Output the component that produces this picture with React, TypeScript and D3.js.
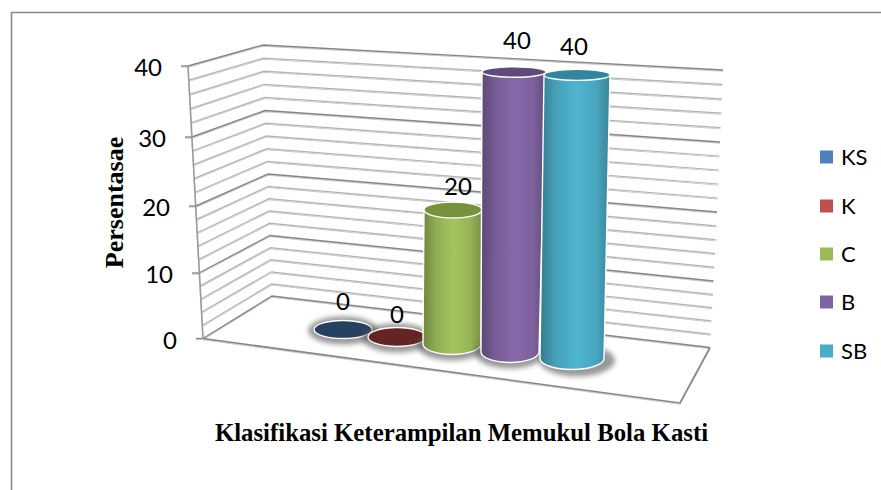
import React from "react";
import * as d3 from "d3";

const categories = ["KS", "K", "C", "B", "SB"];
const percentages = [0, 0, 20, 40, 40];
const colors = ["#4f81bd", "#c0504d", "#9bbb59", "#8064a2", "#4bacc6"];
const capColors = ["#254061", "#632523", "#76923c", "#5f4a7c", "#31859c"];
const axisTicks = [0, 10, 20, 30, 40];
const gridValues = d3.range(0, 42, 2);
const yTitle = "Persentasae";
const xTitle = "Klasifikasi Keterampilan Memukul Bola Kasti";

// Perspective box: each vertical edge of the 3D walls is a value -> pixel scale.
const frontX = d3.scaleLinear().domain(axisTicks).range([203, 199, 196, 192, 188]);
const frontY = d3.scaleLinear().domain(axisTicks).range([338.5, 273, 206, 137, 66]);
const cornerX = d3.scaleLinear().domain(axisTicks).range([272, 270, 268, 265, 263]);
const cornerY = d3.scaleLinear().domain(axisTicks).range([296, 235.5, 174, 110.5, 45]);
const backX = d3.scaleLinear().domain(axisTicks).range([710, 713.5, 717, 720, 723]);
const backY = d3.scaleLinear().domain(axisTicks).range([347.5, 281, 212, 142, 70]);
const floorFrontRight: [number, number] = [680, 403];

// Floor placement and foreshortening of each cylinder, indexed by category.
const slots = categories.map((_, i) => i);
const baseX = d3.scaleLinear().domain(slots).range([343, 397, 452, 510, 572]);
const baseY = d3.scaleLinear().domain(slots).range([329.5, 337, 344, 352, 358.5]);
const baseRx = d3.scaleLinear().domain(slots).range([29, 29, 29, 29, 32]);
const baseRy = d3.scaleLinear().domain(slots).range([9, 9.5, 10.5, 10.5, 11]);
const unitHeight = d3.scaleLinear().domain(slots).range([6.6, 6.65, 6.7, 7, 7.09]);
const leanAtMax = d3.scaleLinear().domain(slots).range([0, 1, 2, 4, 5]);
const flareAtMax = d3.scaleLinear().domain(slots).range([0, 0, 0, 3, 1]);
const labelGap = d3.scaleLinear().domain(slots).range([19.5, 14, 15, 23, 20]);
const labelShift = d3.scaleLinear().domain(slots).range([0, 0, 5, 3, -3]);
const capFlatten = d3.scaleLinear().domain([0, 40]).range([1, 0.5]);

const legendY = d3.scaleLinear().domain(slots).range([157, 206, 254, 302, 351]);

const LABEL_FONT = "Lato, 'Open Sans', sans-serif";
const TITLE_FONT = "'Liberation Serif', 'Times New Roman', serif";
const line = d3.line();

function Cylinder({ i }: { i: number }) {
  const v = percentages[i];
  const bx = baseX(i);
  const by = baseY(i);
  const brx = baseRx(i);
  const bry = baseRy(i);
  const shadow = (
    <ellipse
      cx={bx + (i === 4 ? 5 : 0)}
      cy={by + (i === 4 ? 2 : 1)}
      rx={brx + 6}
      ry={bry + 5}
      fill="#555"
      opacity={0.6}
      filter="url(#baseShadow)"
    />
  );
  if (v === 0) {
    return (
      <g>
        {shadow}
        <ellipse cx={bx} cy={by} rx={brx} ry={bry} fill={capColors[i]} stroke="#fff" strokeWidth={1.3} />
      </g>
    );
  }
  const share = v / 40;
  const tx = bx + leanAtMax(i) * share;
  const ty = by - v * unitHeight(i);
  const trx = brx + flareAtMax(i) * share;
  const tryy = bry * capFlatten(v);
  const body = `M${tx - trx},${ty}L${bx - brx},${by}A${brx},${bry} 0 0 0 ${bx + brx},${by}L${tx + trx},${ty}Z`;
  return (
    <g>
      {shadow}
      <path d={body} fill={`url(#cyl${i})`} stroke="#fff" strokeWidth={1.4} strokeLinejoin="round" />
      <ellipse cx={tx} cy={ty} rx={trx} ry={tryy} fill={capColors[i]} stroke="#fff" strokeWidth={1.4} />
    </g>
  );
}

export default function App() {
  return (
    <svg
      width={881}
      height={490}
      viewBox="0 0 881 490"
      style={{ position: "fixed", left: 0, top: 0, background: "#fff", display: "block" }}
    >
      <defs>
        <filter id="baseShadow" x="-40%" y="-80%" width="180%" height="260%">
          <feGaussianBlur stdDeviation={2.6} />
        </filter>
        <filter id="lineShadow" x="-5%" y="-5%" width="110%" height="110%">
          <feDropShadow dx={0} dy={1} stdDeviation={0.7} floodColor="#000" floodOpacity={0.22} />
        </filter>
        {colors.map((c, i) => (
          <linearGradient id={`cyl${i}`} key={c} x1="0" x2="1" y1="0" y2="0">
            <stop offset="0" stopColor={d3.rgb(c).darker(0.95).formatHex()} />
            <stop offset="0.22" stopColor={d3.rgb(c).darker(0.2).formatHex()} />
            <stop offset="0.52" stopColor={d3.rgb(c).brighter(0.15).formatHex()} />
            <stop offset="0.8" stopColor={d3.rgb(c).darker(0.1).formatHex()} />
            <stop offset="1" stopColor={d3.rgb(c).darker(0.75).formatHex()} />
          </linearGradient>
        ))}
      </defs>

      {/* chart frame, open on the right and bottom edges of the canvas */}
      <path d="M11.5,490V12.5H881" fill="none" stroke="#8a8a8a" strokeWidth={1.6} />

      {/* side wall, back wall and floor outline */}
      <g fill="none" filter="url(#lineShadow)">
        {gridValues.map((g) => {
          const major = g % 10 === 0;
          return (
            <path
              key={g}
              d={
                line([
                  [frontX(g), frontY(g)],
                  [cornerX(g), cornerY(g)],
                  [backX(g), backY(g)],
                ]) as string
              }
              stroke={major ? "#868686" : "#b4b4b4"}
              strokeWidth={major ? 1.4 : 1.2}
            />
          );
        })}
        <path
          d={
            line([
              [frontX(0), frontY(0)],
              floorFrontRight,
              [backX(0), backY(0)],
            ]) as string
          }
          stroke="#868686"
          strokeWidth={1.6}
        />
        <path
          d={line([[frontX(0), frontY(0)], [frontX(40), frontY(40)]]) as string}
          stroke="#9a9a9a"
          strokeWidth={1.5}
        />
        {axisTicks.map((t) => (
          <path
            key={t}
            d={line([[frontX(t) - 7, frontY(t)], [frontX(t), frontY(t)]]) as string}
            stroke="#868686"
            strokeWidth={1.3}
          />
        ))}
      </g>

      {/* axis tick labels */}
      <g fontFamily={LABEL_FONT} fontSize={24} fill="#000" textAnchor="end">
        {axisTicks.map((t) => (
          <text key={t} x={frontX(t) - 26} y={frontY(t) + 10}>
            {t}
          </text>
        ))}
      </g>

      {slots.map((i) => (
        <Cylinder key={i} i={i} />
      ))}

      {/* value labels above each cylinder */}
      <g fontFamily={LABEL_FONT} fontSize={24} fill="#000" textAnchor="middle">
        {slots.map((i) => (
          <text
            key={i}
            x={baseX(i) + (leanAtMax(i) * percentages[i]) / 40 + labelShift(i)}
            y={baseY(i) - percentages[i] * unitHeight(i) - labelGap(i)}
          >
            {percentages[i]}
          </text>
        ))}
      </g>

      <text
        transform="translate(123,202.5) rotate(-90)"
        textAnchor="middle"
        fontFamily={TITLE_FONT}
        fontWeight={700}
        fontSize={26}
        fill="#000"
      >
        {yTitle}
      </text>
      <text
        x={461.5}
        y={441}
        textAnchor="middle"
        fontFamily={TITLE_FONT}
        fontWeight={700}
        fontSize={24.8}
        fill="#000"
      >
        {xTitle}
      </text>

      {/* legend */}
      <g fontFamily={LABEL_FONT} fontSize={22} fill="#000">
        {slots.map((i) => (
          <g key={i}>
            <rect x={820} y={legendY(i) - 6.5} width={13} height={13} fill={colors[i]} />
            <text x={841} y={legendY(i) + 8}>
              {categories[i]}
            </text>
          </g>
        ))}
      </g>
    </svg>
  );
}
